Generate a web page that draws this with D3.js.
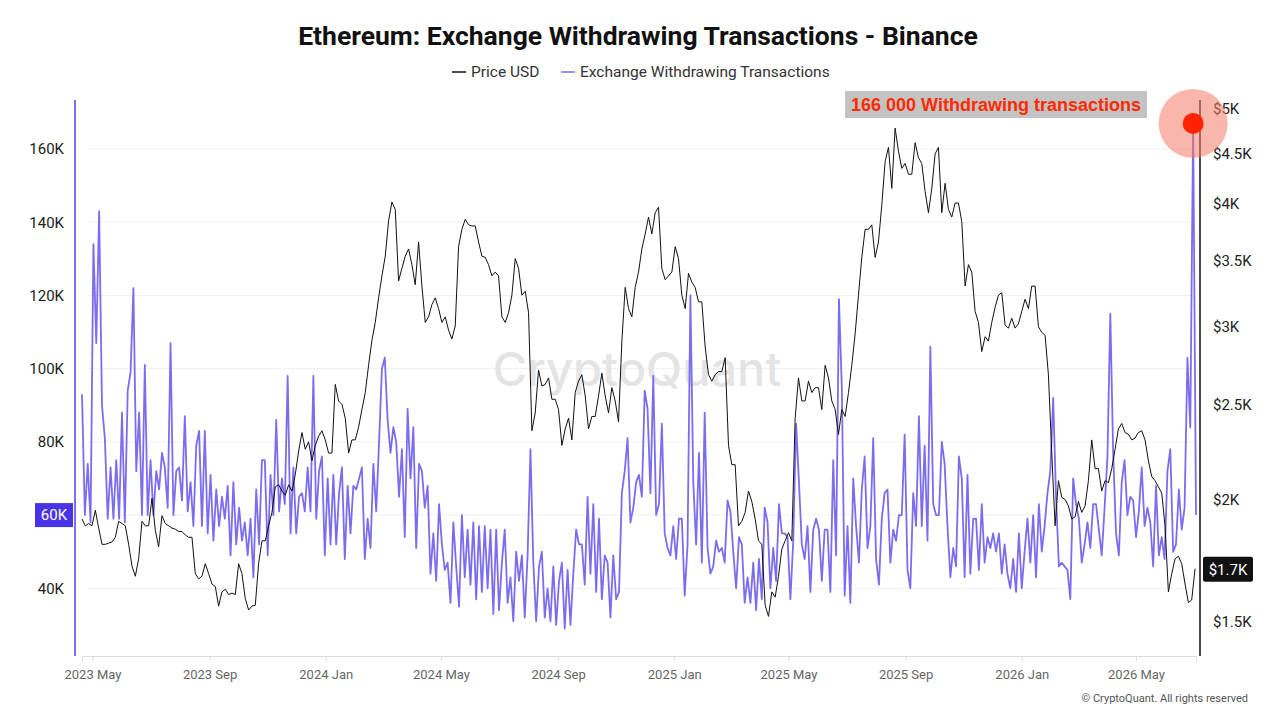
<!DOCTYPE html>
<html>
<head>
<meta charset="utf-8">
<script src="https://cdn.jsdelivr.net/npm/d3@7"></script>
<style>
  body { margin: 0; background: #fff; }
  svg { display: block; font-family: Roboto, "Noto Sans", sans-serif; }
</style>
</head>
<body>
<svg id="chart" width="1280" height="720"></svg>
<script>
// series start and sampling steps
const START_DATE = "2023-04-20";
const WITHDRAW_STEP_DAYS = 3;
const PRICE_STEP_HOURS = 84; // 3.5 days

// Exchange withdrawing transactions, thousands, one value every 3 days
const withdraw2023 = [93,60,74,58,134,107,143,90,81,59,73,59,75,59,88,58,94,99,122,72,88,60,101,60,75,60,72,67,77,73,62,107,60,72,73,64,87,61,69,57,79,83,57,83,55,71,53,67,57,65,59,68,49,69,52,62,53,58,49,59,43,67,52,75,75,49,71,60,86,61,70,63,98,55,73,55,65];
const withdraw2024a = [66,61,73,61,98,59,72,76,49,70,52,71,52,66,73,48,68,55,68,67,70,73,48,59,51,74,61,80,100,103,86,77,84,80,65,78,54,89,70,84,51,74,72,62,68,44,55,42,63,52,45,47,36,58,46,35,60,43,56,41,58,37,57,39,57,40,56,33,56,34,47,56,36,43,31,50,42,49,32,49];
const withdraw2024b = [78,47,31,46,50,32,40,31,46,30,42,47,29,45,30,44,56,52,52,41,65,44,63,39,59,37,49,47,32,49,37,39,66,72,81,58,62,69,71,65,94,89,66,98,60,63,85,55,51,49,57,48,59,59,38,52,120,69,52,77,47,88,51,44,46,53,50,51,47,64,61,50,40,54,52,36,43,36,47,34,48];
const withdraw2025 = [37,62,58,40,51,42,63,55,55,54,37,53,85,69,52,48,57,39,56,59,56,42,56,56,39,75,49,119,95,38,57,36,70,57,47,67,76,51,57,81,48,41,59,66,67,47,56,53,60,60,82,45,40,66,57,87,57,79,53,106,63,60,60,80,74,57,43,51,46,76,70,43,71,44,59,59,45,63,47,54,51];
const withdraw2026 = [55,50,55,44,52,44,40,48,39,55,40,50,59,47,60,43,63,50,57,66,72,92,65,46,47,46,45,37,70,63,59,47,52,58,51,63,63,56,49,62,76,115,77,55,49,69,75,60,65,64,54,61,73,57,62,58,46,68,49,54,48,72,78,50,52,67,56,62,103,84,167,60];

// ETH price in USD, one value every 3.5 days
const priceUsd = [
  1910,1880,1890,1880,1950,1870,1800,1800,1805,1810,1830,1900,1890,1880,1800,1710,1670,1740,1900,1880,
  1880,2005,1860,1790,1925,1890,1880,1870,1865,1855,1855,1840,1830,1830,1680,1660,1670,1720,1680,1640,
  1630,1557,1610,1620,1600,1605,1600,1720,1680,1585,1543,1557,1560,1720,1815,1815,1880,1940,2060,2070,
  2040,2020,2070,2040,2120,2240,2340,2250,2290,2190,2270,2320,2350,2300,2230,2230,2620,2520,2500,2420,
  2230,2300,2300,2370,2470,2570,2740,2905,3030,3210,3380,3540,3845,4020,3950,3340,3440,3540,3600,3470,
  3310,3660,3300,3030,3070,3160,3210,3130,3030,3070,2975,2915,3005,3620,3770,3860,3810,3800,3800,3660,
  3540,3530,3470,3380,3410,3380,3070,3030,3100,3230,3520,3440,3230,3260,3100,2350,2450,2710,2610,2620,
  2660,2530,2530,2470,2270,2360,2420,2300,2570,2640,2680,2550,2360,2430,2430,2550,2690,2550,2450,2600,
  2520,2400,2900,3290,3130,3070,3290,3410,3600,3730,3880,3730,3920,3970,3440,3350,3380,3410,3620,3520,
  3230,3130,3400,3330,3290,3180,3180,2860,2680,2640,2680,2700,2700,2790,2270,2170,2170,1880,1900,1940,
  2040,1990,1910,1815,1800,1560,1520,1610,1590,1670,1780,1815,1850,1815,2420,2660,2520,2520,2640,2570,
  2600,2600,2470,2740,2660,2520,2470,2330,2470,2430,2570,2740,2950,3230,3530,3770,3770,3810,3530,3660,
  3990,4420,4570,4150,4780,4530,4350,4400,4290,4290,4620,4460,4400,4120,3920,4150,4500,4570,3920,4200,
  3950,3880,4010,4010,3840,3300,3470,3410,3110,3030,2830,2930,2900,3030,3140,3230,3250,3010,2990,3060,
  2990,3020,3110,3200,3130,3300,3300,3000,2960,2940,2680,2230,1880,2090,2010,2000,1970,1910,1920,1990,
  1940,1970,2090,2300,2150,2150,2040,2090,2080,2150,2250,2360,2390,2340,2330,2300,2310,2340,2350,2300,
  2190,2110,2090,2060,2030,1880,1610,1680,1740,1750,1720,1640,1570,1580,1700
];

const leftTicks = [40, 60, 80, 100, 120, 140, 160];
const rightTicks = [1500, 2000, 2500, 3000, 3500, 4000, 4500, 5000];
const monthTicks = ["2023-05-01","2023-09-01","2024-01-01","2024-05-01","2024-09-01","2025-01-01","2025-05-01","2025-09-01","2026-01-01","2026-05-01"];

const PURPLE = "#7b6cf0";
const parse = d3.timeParse("%Y-%m-%d");
const start = parse(START_DATE);

const withdrawK = [].concat(withdraw2023, withdraw2024a, withdraw2024b, withdraw2025, withdraw2026);
const withdrawData = withdrawK.map((v, i) => ({ date: d3.timeDay.offset(start, i * WITHDRAW_STEP_DAYS), value: v }));
const priceData = priceUsd.map((v, i) => ({ date: d3.timeHour.offset(start, i * PRICE_STEP_HOURS), value: v }));

const svg = d3.select("#chart");
const plotTop = 100, plotBottom = 656;

const x = d3.scaleTime()
  .domain([start, d3.timeDay.offset(start, 1170)])
  .range([82, 1196]);

const yL = d3.scaleLinear().domain([21.5, 173.4]).range([plotBottom, plotTop]);
const yR = d3.scaleLog().domain([1385, 5107]).range([plotBottom, plotTop]);

// title + legend
svg.append("text")
  .attr("x", 638).attr("y", 45)
  .attr("text-anchor", "middle")
  .attr("font-size", 26.5).attr("font-weight", 700).attr("fill", "#111")
  .text("Ethereum: Exchange Withdrawing Transactions - Binance");

const legend = [
  { label: "Price USD", color: "#111", x: 452 },
  { label: "Exchange Withdrawing Transactions", color: PURPLE, x: 561 },
];
legend.forEach((d) => {
  svg.append("line")
    .attr("x1", d.x).attr("x2", d.x + 14).attr("y1", 72).attr("y2", 72)
    .attr("stroke", d.color).attr("stroke-width", 1.5);
  svg.append("text")
    .attr("x", d.x + 19).attr("y", 77)
    .attr("font-size", 15.5).attr("fill", "#333")
    .text(d.label);
});

// gridlines
svg.append("g")
  .selectAll("line")
  .data(leftTicks)
  .enter()
  .append("line")
  .attr("x1", 88).attr("x2", 1193)
  .attr("y1", d => yL(d)).attr("y2", d => yL(d))
  .attr("stroke", "#f1f1f1");

// watermark
svg.append("text")
  .attr("x", 637).attr("y", 386)
  .attr("text-anchor", "middle")
  .attr("font-family", "Inter, Roboto, sans-serif")
  .attr("font-size", 47).attr("font-weight", 500)
  .attr("fill", "#e4e4e4")
  .text("CryptoQuant");

// series
svg.append("path")
  .datum(withdrawData)
  .attr("fill", "none")
  .attr("stroke", PURPLE)
  .attr("stroke-width", 1.8)
  .attr("stroke-linejoin", "round")
  .attr("d", d3.line().x(d => x(d.date)).y(d => yL(d.value)));

svg.append("path")
  .datum(priceData)
  .attr("fill", "none")
  .attr("stroke", "#111")
  .attr("stroke-width", 1)
  .attr("d", d3.line().x(d => x(d.date)).y(d => yR(d.value)));

// x axis
const xAxis = svg.append("g")
  .attr("transform", `translate(0,${plotBottom})`)
  .call(d3.axisBottom(x)
    .tickValues(monthTicks.map(parse))
    .tickFormat(d3.timeFormat("%Y %b"))
    .tickSize(5)
    .tickPadding(9));
xAxis.select(".domain").attr("stroke", "#dcdcdc");
xAxis.selectAll(".tick line").attr("stroke", "#dcdcdc");
xAxis.selectAll("text").attr("font-size", 13).attr("fill", "#666").attr("font-family", "Roboto, sans-serif");

// last values (used for badges)
const lastW = withdrawData[withdrawData.length - 1];
const lastP = priceData[priceData.length - 1];

// left axis
const leftAxis = svg.append("g")
  .attr("transform", "translate(75,0)")
  .call(d3.axisLeft(yL).tickValues(leftTicks).tickFormat(d => `${d}K`).tickSize(0).tickPadding(11));
leftAxis.select(".domain").remove();
leftAxis.selectAll("text")
  .attr("font-size", 15).attr("fill", "#222").attr("font-family", "Roboto, sans-serif")
  .attr("display", d => (Math.abs(yL(d) - yL(lastW.value)) < 14 ? "none" : null));
svg.append("line")
  .attr("x1", 75).attr("x2", 75).attr("y1", plotTop).attr("y2", plotBottom)
  .attr("stroke", PURPLE).attr("stroke-width", 2);

// right axis
const rightAxis = svg.append("g")
  .attr("transform", "translate(1200,0)")
  .call(d3.axisRight(yR).tickValues(rightTicks).tickFormat(d => `$${d / 1000}K`).tickSize(0).tickPadding(13));
rightAxis.select(".domain").remove();
rightAxis.selectAll("text").attr("font-size", 15).attr("fill", "#222").attr("font-family", "Roboto, sans-serif");
svg.append("line")
  .attr("x1", 1200).attr("x2", 1200).attr("y1", plotTop).attr("y2", plotBottom)
  .attr("stroke", "#111").attr("stroke-width", 1.5);

// last-value badges
svg.append("rect")
  .attr("x", 35).attr("y", yL(lastW.value) - 12)
  .attr("width", 38).attr("height", 24)
  .attr("fill", "#4a33e6");
svg.append("text")
  .attr("x", 54).attr("y", yL(lastW.value) + 5)
  .attr("text-anchor", "middle")
  .attr("font-size", 15).attr("fill", "#fff")
  .text(`${lastW.value}K`);

svg.append("rect")
  .attr("x", 1203).attr("y", yR(lastP.value) - 12)
  .attr("width", 50).attr("height", 25)
  .attr("rx", 2)
  .attr("fill", "#111");
svg.append("text")
  .attr("x", 1228).attr("y", yR(lastP.value) + 6)
  .attr("text-anchor", "middle")
  .attr("font-size", 15).attr("fill", "#fff")
  .text(`$${(lastP.value / 1000).toFixed(1)}K`);

// spike annotation
const peak = withdrawData.reduce((a, b) => (b.value > a.value ? b : a));
const px = x(peak.date), py = yL(peak.value);

svg.append("circle")
  .attr("cx", px).attr("cy", py).attr("r", 34.5)
  .attr("fill", "#f47a66").attr("fill-opacity", 0.55);
svg.append("circle")
  .attr("cx", px).attr("cy", py).attr("r", 10.5)
  .attr("fill", "#ff2200");

svg.append("rect")
  .attr("x", 845).attr("y", 91)
  .attr("width", 302).attr("height", 27)
  .attr("fill", "#c3c3c3");
svg.append("text")
  .attr("x", 996).attr("y", 111)
  .attr("text-anchor", "middle")
  .attr("font-family", "'Liberation Sans', Arial, sans-serif")
  .attr("font-size", 18).attr("font-weight", 700)
  .attr("fill", "#ff2a00")
  .text("166 000 Withdrawing transactions");

// footer
svg.append("text")
  .attr("x", 1248).attr("y", 702)
  .attr("text-anchor", "end")
  .attr("font-size", 11).attr("fill", "#555")
  .text("© CryptoQuant. All rights reserved");
</script>
</body>
</html>
